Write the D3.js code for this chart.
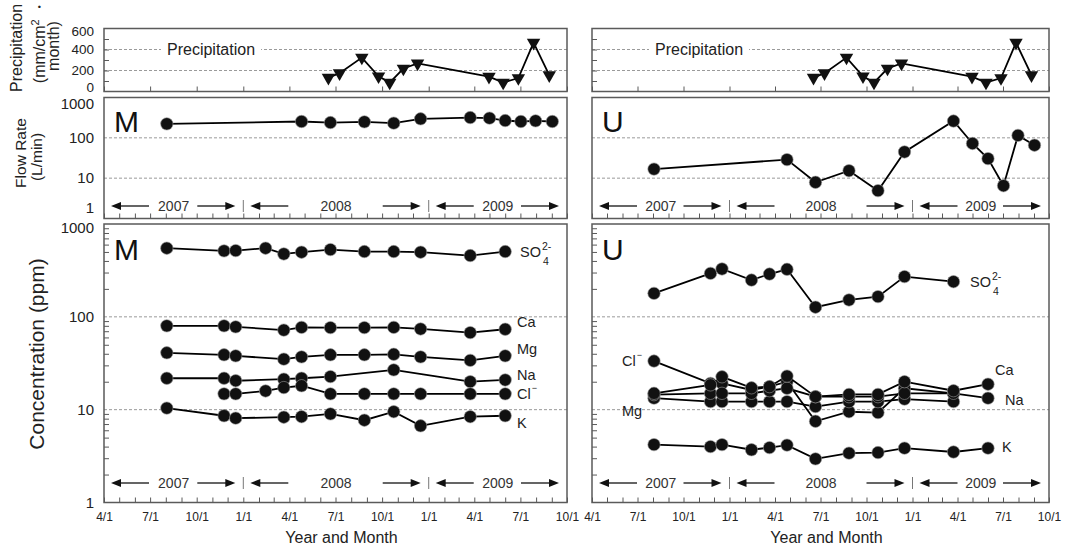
<!DOCTYPE html>
<html>
<head>
<meta charset="utf-8">
<script src="https://cdn.jsdelivr.net/npm/d3@7"></script>
<style>
  body { margin: 0; background: #fff; }
  svg { font-family: "Liberation Sans", Arial, sans-serif; }
</style>
</head>
<body>
<svg id="chart" width="1067" height="550"></svg>
<script>
// ---------- data ----------
// Monthly precipitation (mm/cm2・month)
const precipDates  = ["2008-06-17","2008-07-09","2008-08-22","2008-09-24","2008-10-16","2008-11-12","2008-12-10","2009-04-30","2009-05-28","2009-06-27","2009-07-27","2009-08-27"];
const precipValues = [132, 174, 323, 145, 85, 219, 267, 141, 85, 128, 465, 155];

// Flow rate (L/min)
const flowDates = ["2007-08-03","2008-04-25","2008-06-21","2008-08-27","2008-10-24","2008-12-16","2009-03-24","2009-05-01","2009-06-01","2009-07-02","2009-07-31","2009-09-02"];
const flowM = [222, 254, 239, 249, 231, 296, 318, 308, 268, 254, 264, 254];
const flowU = [16.8, 28.8, 7.9, 15.3, 4.9, 44.7, 261, 72.4, 30.5, 6.5, 115, 65.7];

// Concentrations (ppm); null = not measured on that date
const concDates = ["2007-08-03","2007-11-24","2007-12-17","2008-02-14","2008-03-21","2008-04-25","2008-06-21","2008-08-27","2008-10-24","2008-12-16","2009-03-24","2009-06-01"];
const so4M = [549, 513, 517, 549, 476, 497, 530, 505, 505, 497, 457, 505];
const caM  = [80, 80, 78, null, 72, 77, 76.5, 76.5, 77, 74, 67.6, 73.5];
const mgM  = [41, 39, 38, null, 35, 37, 39, 39, 39.5, 37, 34, 38];
const naM  = [21.8, 21.8, 20.5, null, 21.3, 21.8, 22.7, null, 26.8, null, 20, 20.9];
const clM  = [null, 14.8, 14.8, 15.9, 17.3, 18.1, 14.8, 14.8, 14.8, 14.8, 14.8, 14.8];
const kM   = [10.4, 8.6, 8.1, null, 8.3, 8.4, 9.0, 7.7, 9.5, 6.7, 8.4, 8.6];

const so4U = [179, 294, 328, 249, 289, 325, 127, 152, 165, 271, 239, null];
const caU  = [15.0, 18.5, 22.6, 17.2, 17.7, 23, 13.8, 14.6, 14.6, 20, 16, 18.8];
const naU  = [14.5, 15, 15, 15, 16, 17, 13.8, 13.8, 13.8, 15, 15, 13.3];
const mgU  = [13.3, 12.2, 12.2, 12.2, 12.2, 12.2, 10.8, 12.2, 12.2, 13, 12.2, null];
const clU  = [33.4, 19.2, 19.2, 16.3, 17.7, 20, 7.5, 9.5, 9.3, 17, 15, null];
const kU   = [4.2, 4.0, 4.2, 3.7, 3.9, 4.15, 2.95, 3.4, 3.45, 3.85, 3.5, 3.85];

// Axis settings
const years = [2007, 2008, 2009];
const precipTicks = [0, 200, 400, 600];
const logTicks = [1, 10, 100, 1000];

// ---------- layout ----------
const parse = d3.timeParse("%Y-%m-%d");
const xDomain = [new Date(2007, 3, 1), new Date(2009, 9, 1)];
const rows = { precip: [28.5, 91.5], flow: [97.5, 218.5], conc: [224, 502.5] };
const BORDER = "#5a5a5a", GRID = "#9a9a9a", INK = "#222";

const svg = d3.select("#chart");

const sites = [
  { name: "M", x0: 104, x1: 567, showY: true, flow: flowM,
    series: [
      { v: so4M, lab: "SO4", lx: 520, ly: 252 },
      { v: caM, lab: "Ca", lx: 517, ly: 322 },
      { v: mgM, lab: "Mg", lx: 517, ly: 349 },
      { v: naM, lab: "Na", lx: 517, ly: 375 },
      { v: clM, lab: "Cl", lx: 517, ly: 394 },
      { v: kM,  lab: "K",  lx: 517, ly: 423 } ] },
  { name: "U", x0: 592, x1: 1049, showY: false, flow: flowU,
    series: [
      { v: so4U, lab: "SO4", lx: 970, ly: 282 },
      { v: clU, lab: "Cl", lx: 622, ly: 361 },
      { v: mgU, lab: "Mg", lx: 622, ly: 411 },
      { v: naU, lab: "Na", lx: 1005, ly: 400 },
      { v: caU, lab: "Ca", lx: 995, ly: 370 },
      { v: kU,  lab: "K",  lx: 1002, ly: 447 } ] }
];

function gridLines(g, x, y, vals) {
  g.selectAll(null).data(vals).join("line")
    .attr("x1", x.range()[0]).attr("x2", x.range()[1])
    .attr("y1", d => y(d)).attr("y2", d => y(d))
    .attr("stroke", GRID).attr("stroke-width", 1).attr("stroke-dasharray", "3,2");
}

function border(g, x, r) {
  g.append("rect")
    .attr("x", x.range()[0]).attr("y", r[0])
    .attr("width", x.range()[1] - x.range()[0]).attr("height", r[1] - r[0])
    .attr("fill", "none").attr("stroke", BORDER).attr("stroke-width", 1.5);
}

function bottomTicks(g, x, yPos, values) {
  const ax = g.append("g").attr("transform", `translate(0,${yPos})`)
    .call(d3.axisBottom(x).tickValues(values).tickSize(-5).tickSizeOuter(0).tickFormat(""));
  ax.select(".domain").remove();
  ax.selectAll(".tick line").attr("stroke", BORDER).attr("stroke-width", 1);
}

function leftAxis(g, xLeft, y, labelVals, minorVals, showLabels, nudge, fontSize) {
  if (minorVals.length) {
    const m = g.append("g").attr("transform", `translate(${xLeft},0)`)
      .call(d3.axisLeft(y).tickValues(minorVals).tickSize(-5).tickFormat(""));
    m.select(".domain").remove();
    m.selectAll(".tick line").attr("stroke", BORDER);
  }
  if (showLabels) {
    const a = g.append("g").attr("transform", `translate(${xLeft},0)`)
      .call(d3.axisLeft(y).tickValues(labelVals).tickSize(0).tickPadding(10)
        .tickFormat(d3.format("d")));
    a.select(".domain").remove();
    a.selectAll("text").attr("font-size", fontSize).attr("fill", INK)
      .attr("font-family", "'Liberation Sans', Arial, sans-serif")
      .attr("dy", "0.32em")
      .attr("transform", d => `translate(0,${nudge(d)})`);
  }
}

function yearArrows(g, x, y) {
  const [d0, d1] = x.domain();
  const L = 38, head = 10;
  years.forEach(yr => {
    const a = x(d3.max([d0, new Date(yr, 0, 1)]));
    const b = x(d3.min([d1, new Date(yr + 1, 0, 1)]));
    const la = a + 7, ra = b - 8;
    g.append("line").attr("x1", la + head - 1).attr("x2", la + L).attr("y1", y).attr("y2", y)
      .attr("stroke", "#111").attr("stroke-width", 1.3);
    g.append("path").attr("d", `M${la},${y}L${la + head},${y - 4}L${la + head},${y + 4}Z`).attr("fill", "#111");
    g.append("line").attr("x1", ra - L).attr("x2", ra - head + 1).attr("y1", y).attr("y2", y)
      .attr("stroke", "#111").attr("stroke-width", 1.3);
    g.append("path").attr("d", `M${ra},${y}L${ra - head},${y - 4}L${ra - head},${y + 4}Z`).attr("fill", "#111");
    g.append("text").attr("x", (a + b) / 2).attr("y", y).attr("dy", "0.35em")
      .attr("text-anchor", "middle").attr("font-size", 14).attr("fill", "#333").text(yr);
    if (new Date(yr, 0, 1) > d0) {
      g.append("line").attr("x1", a).attr("x2", a).attr("y1", y - 6).attr("y2", y + 6)
        .attr("stroke", "#777").attr("stroke-width", 1);
    }
  });
}

function drawSeries(g, x, y, dates, values, marker) {
  const pts = dates.map((d, i) => ({ d: parse(d), v: values[i] })).filter(p => p.v != null);
  g.append("path").datum(pts)
    .attr("d", d3.line().x(p => x(p.d)).y(p => y(p.v)))
    .attr("fill", "none").attr("stroke", "#000").attr("stroke-width", 1.8);
  if (marker === "tri") {
    g.selectAll(null).data(pts).join("path")
      .attr("d", d3.symbol().type(d3.symbolTriangle).size(78))
      .attr("transform", p => `translate(${x(p.d)},${y(p.v)}) rotate(180)`)
      .attr("fill", "#111");
  } else {
    g.selectAll(null).data(pts).join("circle")
      .attr("cx", p => x(p.d)).attr("cy", p => y(p.v)).attr("r", 6.2)
      .attr("fill", "#111").attr("stroke", "#9a9a9a").attr("stroke-width", 0.6);
  }
}

function seriesLabel(g, s) {
  const t = g.append("text").attr("x", s.lx).attr("y", s.ly).attr("dy", "0.35em")
    .attr("font-size", 14.5).attr("fill", INK);
  if (s.lab === "SO4") {
    t.text("SO");
    const w = t.node().getComputedTextLength();
    g.append("text").attr("x", s.lx + w + 1).attr("y", s.ly - 6).attr("dy", "0.35em")
      .attr("font-size", 10.5).attr("fill", INK).text("2-");
    g.append("text").attr("x", s.lx + w + 2).attr("y", s.ly + 9).attr("dy", "0.35em")
      .attr("font-size", 10.5).attr("fill", INK).text("4");
  } else if (s.lab === "Cl") {
    t.text("Cl");
    const w = t.node().getComputedTextLength();
    g.append("text").attr("x", s.lx + w + 1).attr("y", s.ly - 5).attr("dy", "0.2em")
      .attr("font-size", 9).attr("fill", INK).text("−");
  } else {
    t.text(s.lab);
  }
}

sites.forEach(s => {
  const x = d3.scaleTime().domain(xDomain).range([s.x0, s.x1]);
  const yP = d3.scaleLinear().domain([0, 600]).range([rows.precip[1], rows.precip[0]]);
  const yF = d3.scaleLog().domain([1, 1000]).range([rows.flow[1], rows.flow[0]]);
  const yC = d3.scaleLog().domain([1, 1000]).range([rows.conc[1], rows.conc[0]]);
  const g = svg.append("g");

  const months = d3.timeMonth.range(xDomain[0], d3.timeDay.offset(xDomain[1], 1));
  const quarters = d3.timeMonth.every(3).range(xDomain[0], d3.timeDay.offset(xDomain[1], 1));
  const minorLog = [];
  [1, 10, 100].forEach(dec => { for (let k = 2; k <= 9; k++) minorLog.push(k * dec); });

  // --- precipitation panel ---
  gridLines(g, x, yP, [200, 400]);
  const pl = g.append("text").attr("x", s.x0 + 63).attr("y", yP(400)).attr("dy", "0.35em")
    .attr("font-size", 16).attr("fill", INK).text("Precipitation");
  const bb = pl.node().getBBox();
  g.insert("rect", "text").attr("x", bb.x - 6).attr("y", bb.y).attr("width", bb.width + 12)
    .attr("height", bb.height).attr("fill", "#fff");
  bottomTicks(g, x, rows.precip[1], quarters);
  leftAxis(g, s.x0, yP, precipTicks, [100, 200, 300, 400, 500], s.showY,
    d => d === 600 ? 3 : (d === 0 ? -4 : 0), 13.5);
  drawSeries(g, x, yP, precipDates, precipValues, "tri");
  border(g, x, rows.precip);

  // --- flow panel ---
  gridLines(g, x, yF, [10, 100]);
  bottomTicks(g, x, rows.flow[1], months);
  leftAxis(g, s.x0, yF, logTicks, [], s.showY,
    d => d === 1000 ? 6.5 : (d === 1 ? -10.5 : 0), 15);
  yearArrows(g, x, 206);
  g.append("text").attr("x", s.x0 + 10).attr("y", 132).attr("font-size", 30)
    .attr("fill", "#111").text(s.name);
  drawSeries(g, x, yF, flowDates, s.flow, "dot");
  border(g, x, rows.flow);

  // --- concentration panel ---
  gridLines(g, x, yC, [10, 100]);
  bottomTicks(g, x, rows.conc[1], months);
  leftAxis(g, s.x0, yC, logTicks, minorLog, s.showY,
    d => d === 1000 ? 4 : 0, 15);
  yearArrows(g, x, 483);
  g.append("text").attr("x", s.x0 + 10).attr("y", 260).attr("font-size", 30)
    .attr("fill", "#111").text(s.name);
  s.series.forEach(ser => drawSeries(g, x, yC, concDates, ser.v, "dot"));
  s.series.forEach(ser => seriesLabel(g, ser));
  border(g, x, rows.conc);

  // --- month labels & axis title ---
  const xa = g.append("g").attr("transform", `translate(0,${rows.conc[1]})`)
    .call(d3.axisBottom(x).tickValues(quarters).tickSize(0).tickPadding(10)
      .tickFormat(d3.timeFormat("%-m/%-d")));
  xa.select(".domain").remove();
  xa.selectAll("text").attr("font-size", 12).attr("fill", INK)
    .attr("font-family", "'Liberation Sans', Arial, sans-serif");
  g.append("text").attr("x", (s.x0 + s.x1) / 2 + 6).attr("y", 537).attr("dy", "0.35em")
    .attr("text-anchor", "middle").attr("font-size", 16).attr("fill", INK).text("Year and Month");
});

// ---------- y axis titles ----------
function vText(x, y, size, str) {
  return svg.append("text").attr("transform", `translate(${x},${y}) rotate(-90)`)
    .attr("text-anchor", "middle").attr("font-size", size).attr("fill", INK).text(str);
}
vText(22, 48, 16, "Precipitation");
const unit = vText(45, 41, 16, "(mm/cm");
unit.append("tspan").attr("font-size", 11).attr("dy", -6).text("2");
unit.append("tspan").attr("dy", 6).text(" ・");
vText(59, 46, 16, "month)");
vText(26, 153, 15.5, "Flow Rate");
vText(42, 157, 15.5, "(L/min)");
vText(44, 354, 21, "Concentration (ppm)");
</script>
</body>
</html>
